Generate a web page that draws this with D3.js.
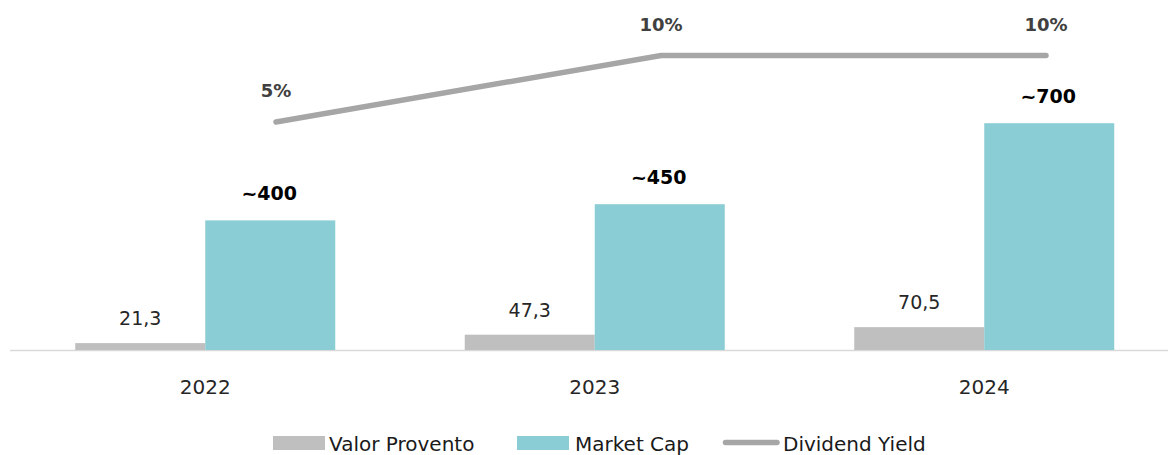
<!DOCTYPE html>
<html>
<head>
<meta charset="utf-8">
<script src="https://cdn.jsdelivr.net/npm/d3@7"></script>
<style>
  html, body { margin: 0; padding: 0; background: #fff; }
  svg { display: block; }
</style>
</head>
<body>
<script>
// ---- data ----
const years = ["2022", "2023", "2024"];
const valorProvento = [21.3, 47.3, 70.5];
const marketCap = [400, 450, 700];
const marketCapLabels = ["~400", "~450", "~700"];
const dividendYield = [5, 10, 10];
const seriesNames = ["Valor Provento", "Market Cap", "Dividend Yield"];

// ---- layout ----
const W = 1170, H = 455;
const colGray = "#bfbfbf", colTeal = "#8acdd4", colLine = "#a6a6a6";
const fmt = v => String(v).replace(".", ",");

const svg = d3.select("body").append("svg").attr("width", W).attr("height", H);

const x = d3.scaleBand().domain(years).range([10.5, 1179]).paddingInner(0);
const sub = d3.scaleBand().domain(["vp", "mc"]).range([0, 260]);
const barOffset = d => x(d) + x.bandwidth() / 2 - 130;
const y = d3.scaleLinear().domain([0, 1000]).range([350, 26]);
const y2 = d3.scaleLinear().domain([0, 10]).range([188.5, 55.5]);
const xl = d3.scalePoint().domain(years).range([276, 1046]);

// baseline axis
svg.append("line")
  .attr("x1", 10).attr("x2", 1168).attr("y1", 350.5).attr("y2", 350.5)
  .attr("stroke", "#d9d9d9").attr("stroke-width", 1.5);

// category labels via axis
const xAxis = svg.append("g").attr("transform", "translate(0,350)")
  .call(d3.axisBottom(x).tickSize(0).tickPadding(30));
xAxis.select(".domain").remove();
xAxis.selectAll("text")
  .attr("font-family", "DejaVu Sans").attr("font-size", 20).attr("fill", "#262626");

// Valor Provento bars
svg.selectAll(".vp").data(years).enter().append("rect")
  .attr("x", d => barOffset(d) + sub("vp"))
  .attr("width", sub.bandwidth())
  .attr("y", (d, i) => y(valorProvento[i]))
  .attr("height", (d, i) => y(0) - y(valorProvento[i]))
  .attr("fill", colGray);

svg.selectAll(".vpl").data(years).enter().append("text")
  .attr("x", d => barOffset(d) + sub("vp") + sub.bandwidth() / 2)
  .attr("y", (d, i) => y(valorProvento[i]) - 18)
  .attr("text-anchor", "middle")
  .attr("font-family", "DejaVu Sans").attr("font-size", 19).attr("fill", "#262626")
  .text((d, i) => fmt(valorProvento[i]));

// Market Cap bars
svg.selectAll(".mc").data(years).enter().append("rect")
  .attr("x", d => barOffset(d) + sub("mc"))
  .attr("width", sub.bandwidth())
  .attr("y", (d, i) => y(marketCap[i]))
  .attr("height", (d, i) => y(0) - y(marketCap[i]))
  .attr("fill", colTeal);

svg.selectAll(".mcl").data(years).enter().append("text")
  .attr("x", d => barOffset(d) + sub("mc") + sub.bandwidth() / 2 - 1)
  .attr("y", (d, i) => y(marketCap[i]) - 20)
  .attr("text-anchor", "middle")
  .attr("font-family", "DejaVu Sans").attr("font-weight", "bold")
  .attr("font-size", 19).attr("fill", "#000")
  .text((d, i) => marketCapLabels[i]);

// Dividend Yield line
const line = d3.line().x(d => xl(d)).y((d, i) => y2(dividendYield[i]));
svg.append("path").datum(years)
  .attr("d", line)
  .attr("fill", "none").attr("stroke", colLine).attr("stroke-width", 5.5)
  .attr("stroke-linecap", "round").attr("stroke-linejoin", "miter");

svg.selectAll(".dyl").data(years).enter().append("text")
  .attr("x", d => xl(d))
  .attr("y", (d, i) => y2(dividendYield[i]) - 25)
  .attr("text-anchor", "middle")
  .attr("font-family", "DejaVu Sans").attr("font-weight", "bold")
  .attr("font-size", 18).attr("fill", "#404040")
  .text((d, i) => dividendYield[i] + "%");

// legend
const lg = svg.append("g");
const legendItems = [
  { name: seriesNames[0], x: 273, type: "rect", color: colGray, tx: 329 },
  { name: seriesNames[1], x: 517, type: "rect", color: colTeal, tx: 575 },
  { name: seriesNames[2], x: 723, type: "line", color: colLine, tx: 783 }
];
legendItems.forEach(it => {
  if (it.type === "rect") {
    lg.append("rect").attr("x", it.x).attr("y", 436).attr("width", 52).attr("height", 14).attr("fill", it.color);
  } else {
    lg.append("line").attr("x1", it.x + 2.5).attr("x2", it.x + 54).attr("y1", 442.5).attr("y2", 442.5)
      .attr("stroke", it.color).attr("stroke-width", 5.5).attr("stroke-linecap", "round");
  }
  lg.append("text").attr("x", it.tx).attr("y", 451)
    .attr("font-family", "DejaVu Sans").attr("font-size", 20).attr("fill", "#1a1a1a")
    .text(it.name);
});
</script>
</body>
</html>
